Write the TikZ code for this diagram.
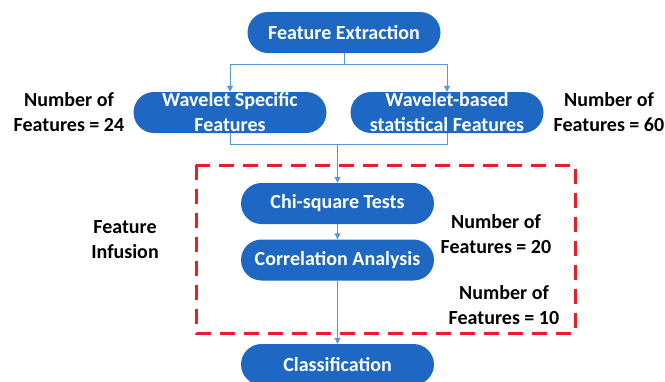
\documentclass[tikz,border=0pt]{standalone}
\usepackage{fontspec}
\setmainfont{Carlito}
\usetikzlibrary{arrows.meta}
\definecolor{boxblue}{RGB}{30,104,196}
\definecolor{linkblue}{RGB}{80,155,215}
\definecolor{frame}{RGB}{232,30,40}
\tikzset{
  stepbox/.style={fill=boxblue, draw=none, rounded corners=20.5pt, minimum width=193pt, minimum height=41pt, inner sep=0pt, text=white, font=\fontsize{20}{25}\selectfont\bfseries, align=center},
  lbl/.style={text=black, font=\fontsize{20}{25}\selectfont\bfseries, align=center, inner sep=0pt},
  conn/.style={draw=linkblue, line width=1pt},
  arr/.style={conn, -{Triangle[length=6pt,width=6pt]}},
  infusion/.style={draw=frame, line width=3pt, dash pattern=on 15pt off 9pt}
}
\begin{document}
\begin{tikzpicture}[x=1pt,y=-1pt]
\useasboundingbox (0,0) rectangle (665,381);
\node[stepbox] (fe) at (344,32.5) {Feature Extraction};
\node[stepbox] (ws) at (230,112.5) {Wavelet Specific\\Features};
\node[stepbox] (wb) at (447,112.5) {Wavelet-based\\statistical Features};
\node[stepbox] (chi) at (337.5,203.5) {Chi-square Tests};
\node[stepbox] (corr) at (337.5,260) {Correlation Analysis};
\node[stepbox] (cls) at (337.5,364.5) {Classification};
\node[lbl] (l24) at (69,112.5) {Number of\\Features = 24};
\node[lbl] (l60) at (609,112.5) {Number of\\Features = 60};
\node[lbl] (linf) at (125,240) {Feature\\Infusion};
\node[lbl] (l20) at (496,234) {Number of\\Features = 20};
\node[lbl] (l10) at (504,305) {Number of\\Features = 10};
\coordinate (split) at (344,64);
\coordinate (merge) at (337.5,144);
\draw[conn] (fe.south) -- (split);
\draw[arr] (split) -| (ws.north);
\draw[arr] (split) -| (wb.north);
\draw[conn] (ws.south) |- (merge);
\draw[conn] (wb.south) |- (merge);
\draw[arr] (merge) -- (chi.north);
\draw[arr] (chi.south) -- (corr.north);
\draw[arr] (corr.south) -- (cls.north);
\draw[infusion] (196,165) rectangle (575,333);
\end{tikzpicture}
\end{document}
